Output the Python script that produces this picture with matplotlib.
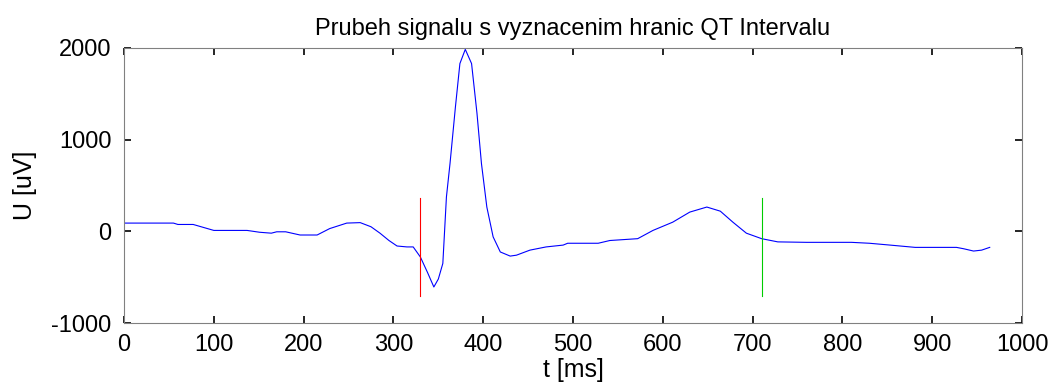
import matplotlib
matplotlib.use('Agg')
import matplotlib.pyplot as plt
import numpy as np

# signal samples (t in ms, U in uV)
t = [0, 55, 60, 77, 100, 137, 151, 164, 170, 180, 196, 215, 229, 248, 263, 275, 285,
     295, 304, 315, 322, 330, 338, 345, 350, 355, 359, 363, 369, 374, 380, 387, 393,
     398, 404, 411, 419, 430, 437, 452, 470, 489, 494, 528, 541, 572, 589, 611, 630,
     649, 664, 678, 693, 710, 728, 760, 810, 830, 853, 881, 927, 935, 946, 955, 964]
u = [90, 90, 75, 75, 10, 10, -10, -20, -5, -5, -40, -40, 30, 90, 95, 50, -20,
     -100, -160, -170, -170, -280, -450, -607, -520, -350, 375, 740, 1355, 1830, 1985, 1830, 1290,
     740, 265, -60, -225, -270, -260, -205, -170, -150, -130, -130, -100, -80, 10, 100, 210,
     265, 220, 100, -20, -80, -115, -120, -120, -130, -150, -175, -175, -190, -215, -205, -175]

# QT interval borders
qt_start = 330
qt_end = 710
marker_lo, marker_hi = -710, 360

plt.rcParams['font.family'] = ['Liberation Sans', 'DejaVu Sans']
plt.rcParams['axes.unicode_minus'] = False

fig = plt.figure(figsize=(10.53, 3.88), dpi=100)
ax = fig.add_axes([0.1178, 0.1675, 0.8528, 0.7088])

ax.plot(t, u, color='#0000ff', linewidth=0.8)
ax.plot([qt_start, qt_start], [marker_lo, marker_hi], color='#ff0000', linewidth=0.8)
ax.plot([qt_end, qt_end], [marker_lo, marker_hi], color='#00cc00', linewidth=0.8)

ax.set_xlim(0, 1000)
ax.set_ylim(-1000, 2000)
ax.set_xticks(np.arange(0, 1001, 100))
ax.set_yticks([-1000, 0, 1000, 2000])
ax.tick_params(direction='in', length=5, width=1.2, color='black', top=True, right=True,
               labelsize=17)
ax.tick_params(axis='x', pad=8)
ax.tick_params(axis='y', pad=9)
for s in ax.spines.values():
    s.set_color('#808080')

ax.set_title('Prubeh signalu s vyznacenim hranic QT Intervalu', fontsize=17, pad=9)
ax.set_xlabel('t [ms]', fontsize=18, labelpad=1)
ax.set_ylabel('U [uV]', fontsize=18, labelpad=10)

fig.savefig('out.png', dpi=100)
